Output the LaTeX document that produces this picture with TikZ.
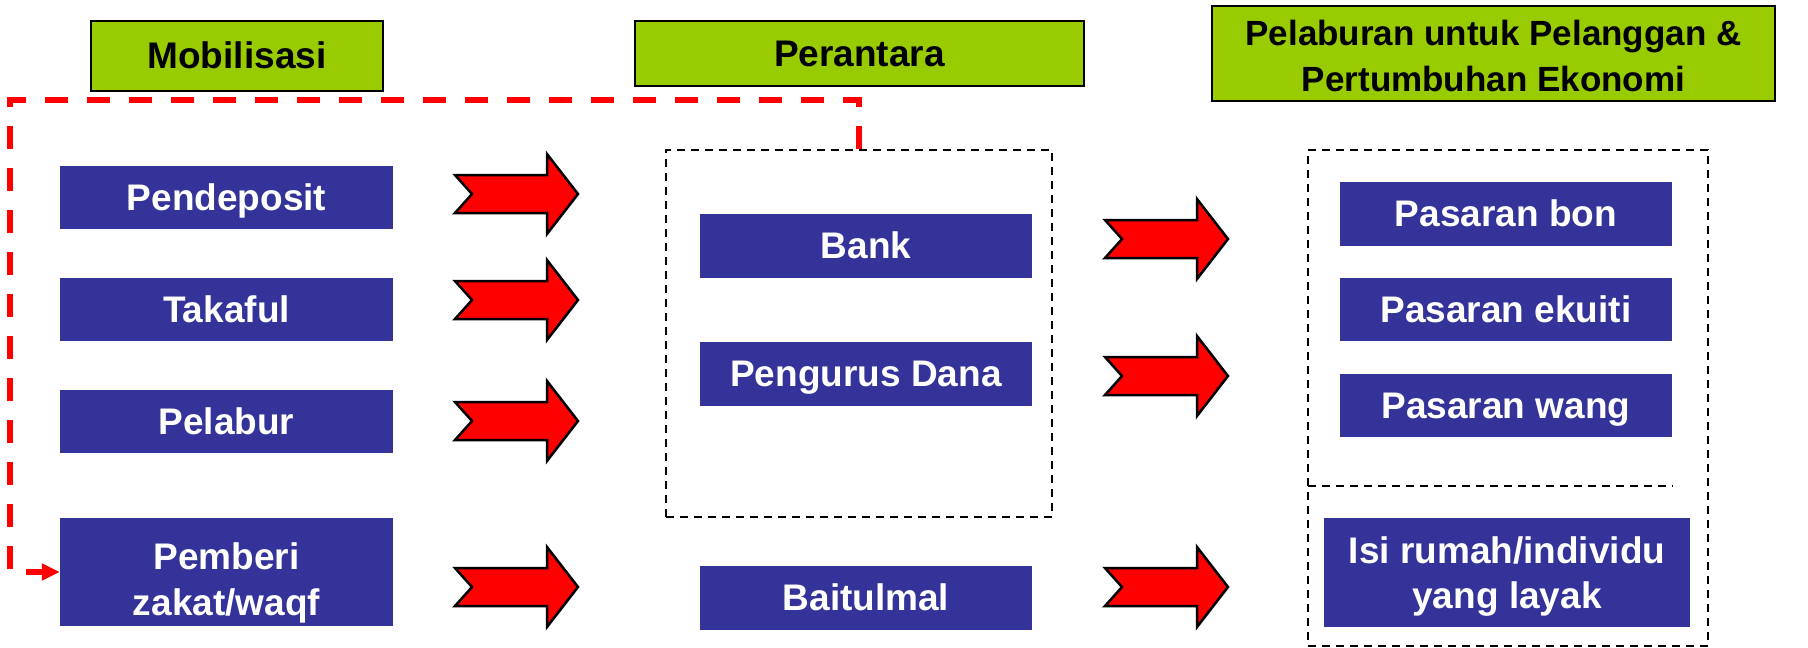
\documentclass[tikz,border=0pt]{standalone}
\usepackage{fontspec}
\setmainfont{Liberation Sans}
\usetikzlibrary{arrows.meta}
\definecolor{hdrgreen}{HTML}{99CC00}
\definecolor{boxblue}{HTML}{333399}
\definecolor{arrred}{HTML}{FF0000}
\newcommand{\topgap}[1]{\rule{0pt}{\dimexpr0.905em+#1\relax}}
\tikzset{
  pptext/.style={execute at begin node={\rule{0pt}{0.905em}},
    execute at end node={\rule[-0.212em]{0pt}{0pt}}},
  bluebox/.style={fill=boxblue,text=white,font=\bfseries\fontsize{37}{46}\selectfont,
    align=center,inner sep=0pt,minimum height=63pt,minimum width=333pt,pptext},
  hdrbox/.style={fill=hdrgreen,draw=black,line width=2.5pt,text=black,
    font=\bfseries\fontsize{37}{46}\selectfont,align=center,inner sep=0pt,pptext},
  grpbox/.style={draw=black,line width=2.5pt,dash pattern=on 8pt off 6pt},
  reddash/.style={draw=arrred,line width=6pt,dash pattern=on 23pt off 19pt},
  blockarrow/.pic={\draw[fill=arrred,draw=black,line width=2.5pt,line join=miter]
    (0,-19) -- (92,-19) -- (92,-40) -- (123,0) -- (92,40) -- (92,19) -- (0,19) -- (17,0) -- cycle;}
}
\begin{document}
\begin{tikzpicture}[x=1pt,y=-1pt]
\useasboundingbox[fill=white] (0,0) rectangle (1808,648);
% headers
\node[hdrbox,minimum width=292pt,minimum height=70pt] (hmob) at (237,56) {Mobilisasi};
\node[hdrbox,minimum width=449pt,minimum height=65pt] (hper) at (859.5,53.5) {Perantara};
\node[hdrbox,minimum width=563pt,minimum height=95pt,font=\bfseries\fontsize{35}{46}\selectfont] (hpel) at (1493.5,53.5) {\topgap{5pt}Pelaburan untuk Pelanggan \&\\Pertumbuhan Ekonomi};
% group boxes
\node[grpbox,minimum width=386pt,minimum height=367pt,inner sep=0pt] (midgrp) at (859,333.5) {};
\node[grpbox,minimum width=400pt,minimum height=496pt,inner sep=0pt] (rgtgrp) at (1508,398) {};
\coordinate (divL) at (1308,486);
\coordinate (divR) at (1673,486);
\draw[grpbox] (divL) -- (divR);
% left column
\node[bluebox] (pend) at (226.5,197.5) {Pendeposit};
\node[bluebox] (taka) at (226.5,309.5) {Takaful};
\node[bluebox] (pela) at (226.5,421.5) {Pelabur};
\node[bluebox,minimum height=108pt] (pem) at (226.5,572) {\topgap{16pt}Pemberi\\zakat/waqf};
% middle column
\node[bluebox,minimum width=332pt,minimum height=64pt] (bank) at (866,246) {Bank};
\node[bluebox,minimum width=332pt,minimum height=64pt] (peng) at (866,374) {Pengurus Dana};
\node[bluebox,minimum width=332pt,minimum height=64pt] (bait) at (866,598) {Baitulmal};
% right column
\node[bluebox,minimum width=332pt,minimum height=64pt] (bon) at (1506,214) {Pasaran bon};
\node[bluebox,minimum width=332pt,minimum height=63pt] (ekui) at (1506,309.5) {Pasaran ekuiti};
\node[bluebox,minimum width=332pt,minimum height=63pt] (wang) at (1506,405.5) {Pasaran wang};
\node[bluebox,minimum width=366pt,minimum height=109pt,font=\bfseries\fontsize{37}{45}\selectfont] (isi) at (1507,572.5) {\topgap{2pt}Isi rumah/individu\\yang layak};
% block arrows
\pic (a1) at (455,194) {blockarrow};
\pic (a2) at (455,300) {blockarrow};
\pic (a3) at (455,421) {blockarrow};
\pic (a4) at (455,587) {blockarrow};
\pic (b1) at (1105,239) {blockarrow};
\pic (b2) at (1105,376) {blockarrow};
\pic (b3) at (1105,587) {blockarrow};
% red dashed feedback
\coordinate (rk) at (859,100);
\coordinate (rc) at (10,100);
\draw[reddash,-{Triangle[length=18pt,width=16pt]}] (rk |- midgrp.north) -- (rk) -- (rc) |- (pem.west);
\end{tikzpicture}
\end{document}
